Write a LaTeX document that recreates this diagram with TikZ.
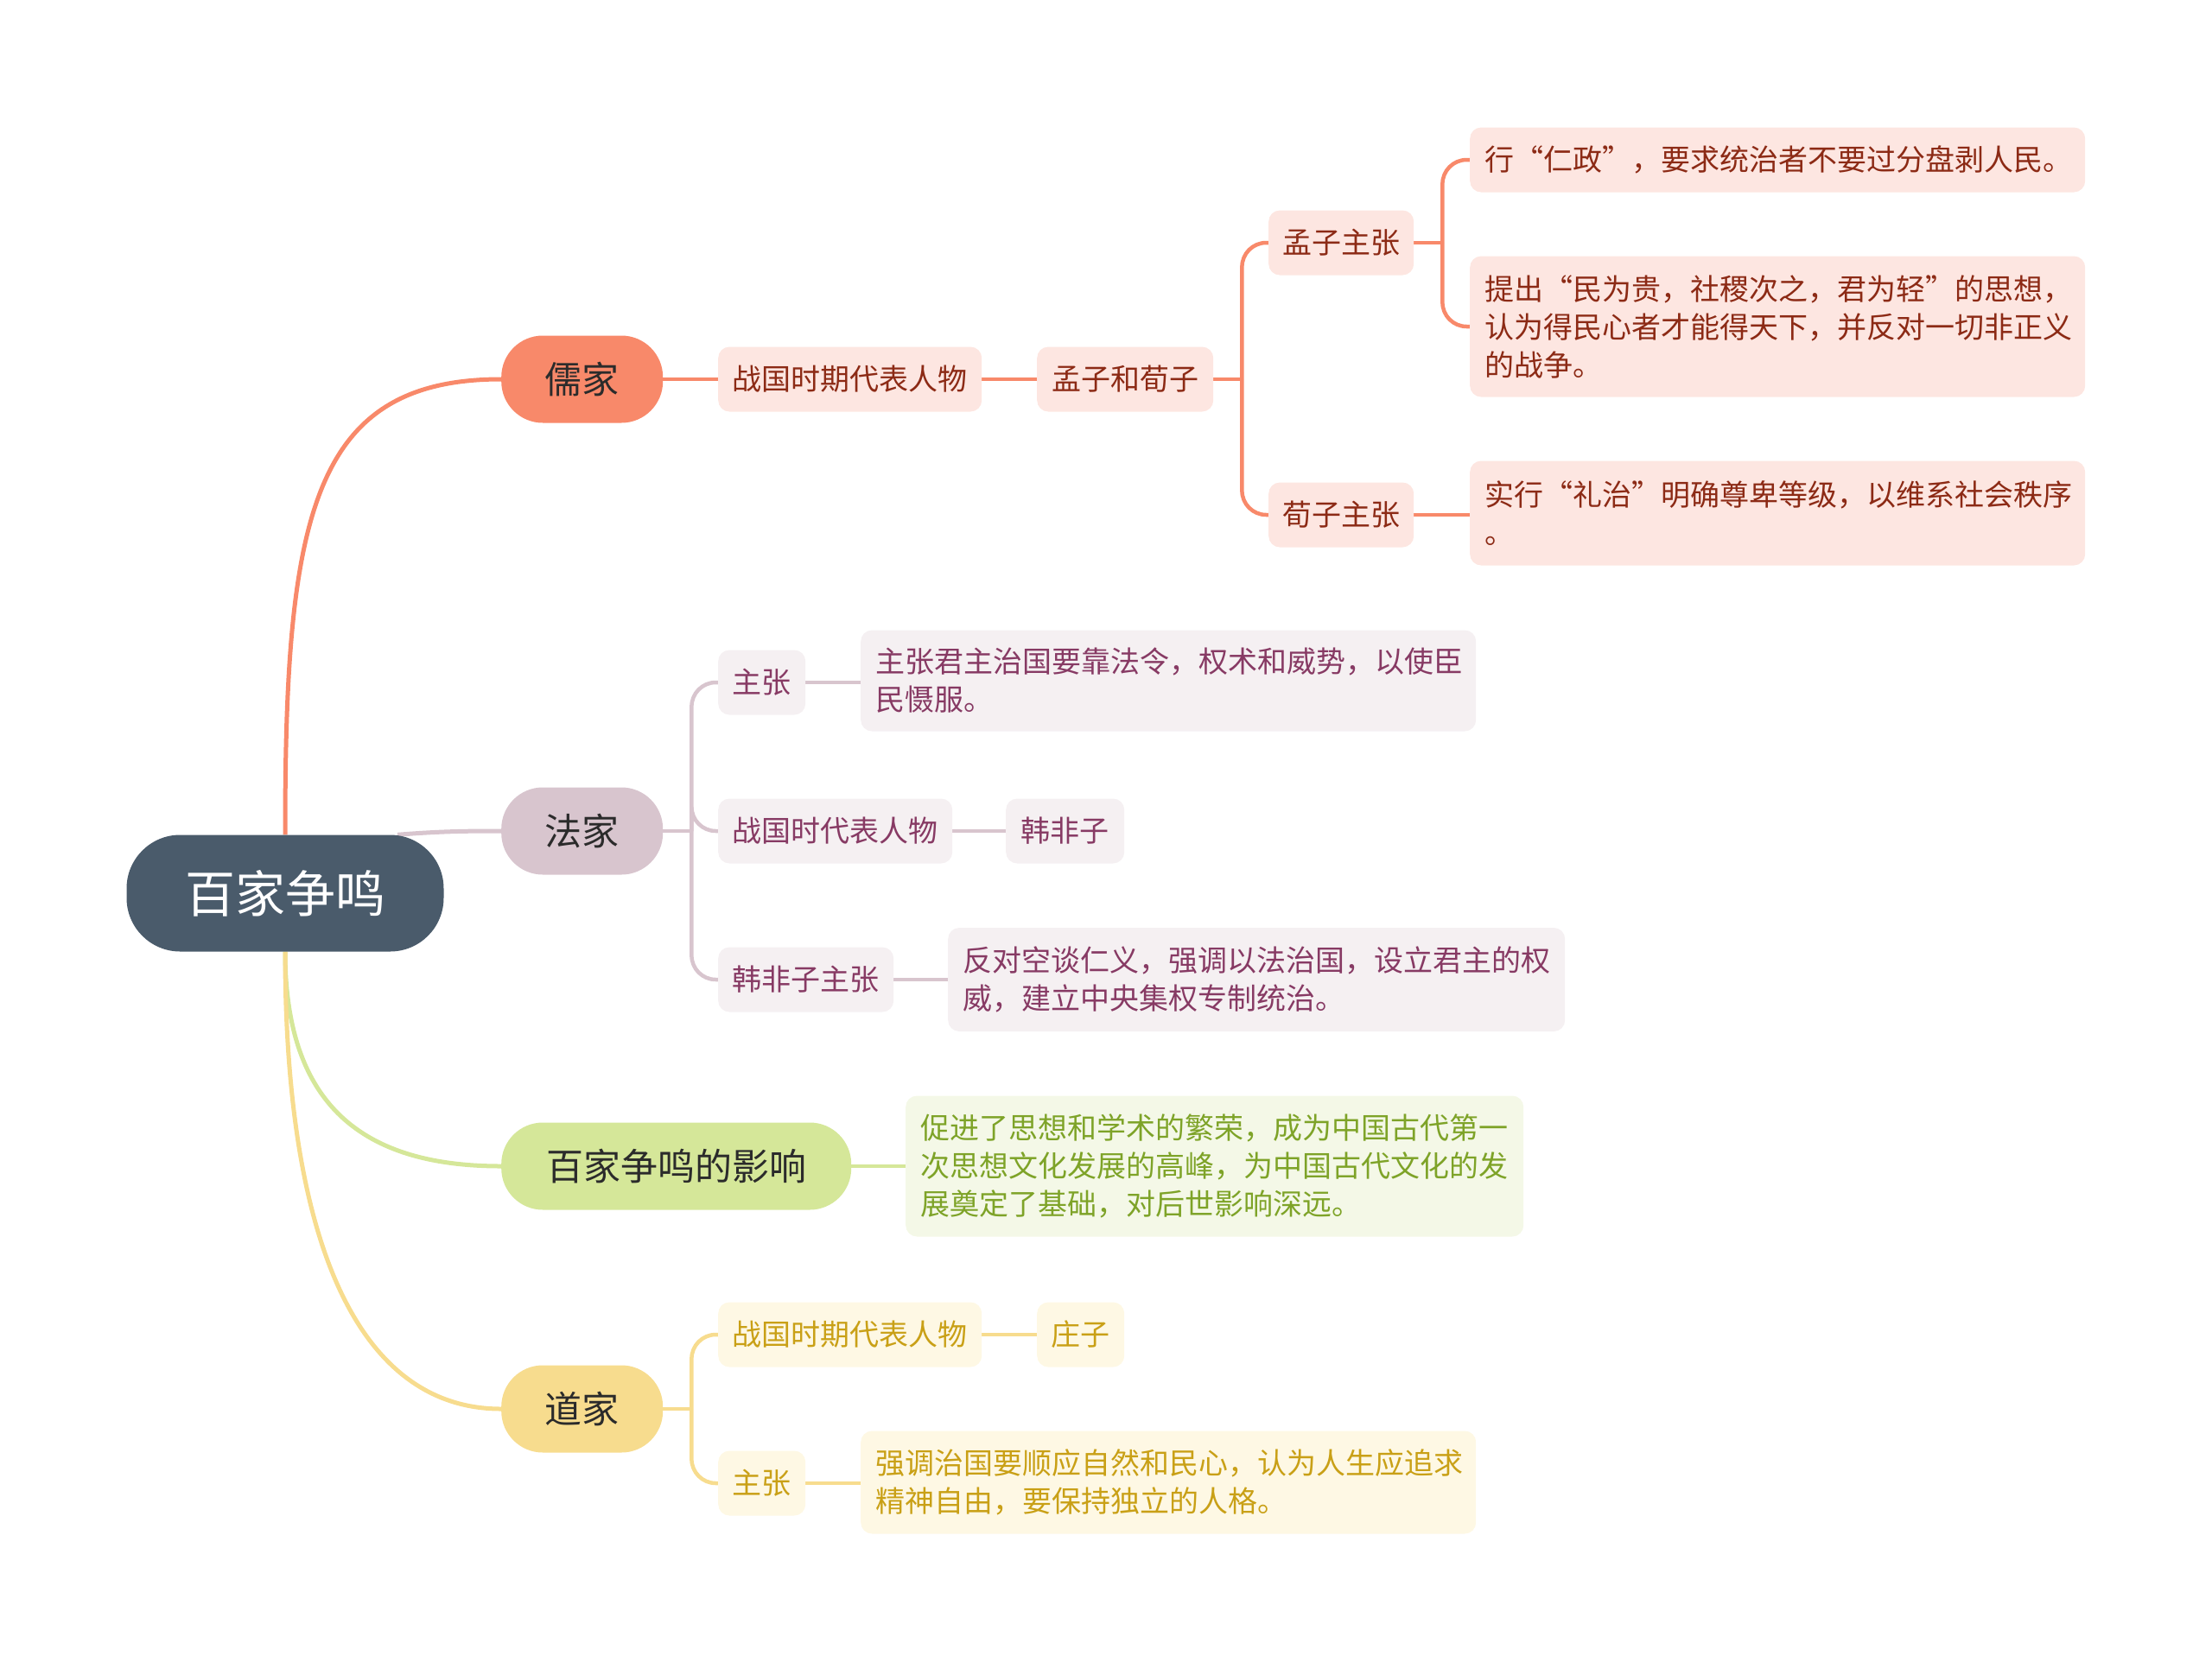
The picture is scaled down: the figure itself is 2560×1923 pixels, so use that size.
\documentclass[tikz,border=0pt]{standalone}
\usepackage{fontspec}
\setmainfont{Noto Sans CJK SC}
\usetikzlibrary{backgrounds}
\definecolor{rootc}{HTML}{4A5B6B}
\definecolor{ruc}{HTML}{F8896A}
\definecolor{rusub}{HTML}{FDE6E1}
\definecolor{rutext}{HTML}{8C2A15}
\definecolor{fac}{HTML}{D8C5CE}
\definecolor{fasub}{HTML}{F5F0F2}
\definecolor{fatext}{HTML}{873A64}
\definecolor{yxc}{HTML}{D5E799}
\definecolor{yxsub}{HTML}{F4F8E7}
\definecolor{yxtext}{HTML}{7EA328}
\definecolor{daoc}{HTML}{F7DC8E}
\definecolor{daosub}{HTML}{FEF8E4}
\definecolor{daotext}{HTML}{C9A016}
\definecolor{maintext}{HTML}{2B2B2B}
\begin{document}
\begin{tikzpicture}[x=1pt,y=-1pt,
  rootbox/.style={fill=rootc, rounded corners=62, minimum width=367, minimum height=135,
    text=white, inner sep=0, font=\fontsize{58}{70}\selectfont},
  mainbox/.style={fill=#1, rounded corners=48, minimum height=101, inner sep=0,
    anchor=west, text=maintext, font=\fontsize{43}{52}\selectfont},
  subbox/.style 2 args={fill=#1, text=#2, rounded corners=13, minimum height=75, inner xsep=0,
    inner ysep=0, anchor=west, font=\fontsize{34}{44}\selectfont},
  leafbox/.style 2 args={fill=#1, text=#2, rounded corners=13, inner xsep=17, inner ysep=0,
    align=left, anchor=west, font=\fontsize{34}{44}\selectfont},
  rline/.style={draw=#1, line width=5},
  lline/.style={draw=#1, line width=4.5},
  bline/.style={draw=#1, line width=4.5, rounded corners=28}
]
\useasboundingbox (0,0) rectangle (2560,1923);

% root
\node[rootbox] (root) at (330,1034) {百家争鸣};

% main branches
\node[mainbox=ruc, minimum width=187] (ru) at (580,439) {儒家};
\node[mainbox=fac, minimum width=187] (fa) at (580,962) {法家};
\node[mainbox=yxc, minimum width=405] (yx) at (580,1350) {百家争鸣的影响};
\node[mainbox=daoc, minimum width=187] (dao) at (580,1631) {道家};

% 儒家
\node[subbox={rusub}{rutext}, minimum width=305] (r1) at (831,439) {战国时期代表人物};
\node[subbox={rusub}{rutext}, minimum width=204] (r2) at (1200,439) {孟子和荀子};
\node[subbox={rusub}{rutext}, minimum width=168] (m1) at (1468,281) {孟子主张};
\node[subbox={rusub}{rutext}, minimum width=168] (x1) at (1468,596) {荀子主张};
\node[leafbox={rusub}{rutext}, text width=678, minimum height=75] (l1) at (1701,185)
  {行“仁政”，要求统治者不要过分盘剥人民。};
\node[leafbox={rusub}{rutext}, text width=678, minimum height=163] (l2) at (1701,378)
  {提出“民为贵，社稷次之，君为轻”的思想，\\认为得民心者才能得天下，并反对一切非正义\\的战争。};
\node[leafbox={rusub}{rutext}, text width=678, minimum height=121] (l3) at (1701,594)
  {实行“礼治”明确尊卑等级，以维系社会秩序\\。};

% 法家
\node[subbox={fasub}{fatext}, minimum width=101] (f1) at (831,790) {主张};
\node[subbox={fasub}{fatext}, minimum width=271] (f2) at (831,962) {战国时代表人物};
\node[subbox={fasub}{fatext}, minimum width=137] (f3) at (1164,962) {韩非子};
\node[subbox={fasub}{fatext}, minimum width=203] (f4) at (831,1134) {韩非子主张};
\node[leafbox={fasub}{fatext}, text width=678, minimum height=117] (l4) at (996,788)
  {主张君主治国要靠法令，权术和威势，以使臣\\民慑服。};
\node[leafbox={fasub}{fatext}, text width=680, minimum height=120] (l5) at (1097,1134)
  {反对空谈仁义，强调以法治国，设立君主的权\\威，建立中央集权专制统治。};

% 影响
\node[leafbox={yxsub}{yxtext}, text width=681, minimum height=163] (l6) at (1048,1350)
  {促进了思想和学术的繁荣，成为中国古代第一\\次思想文化发展的高峰，为中国古代文化的发\\展奠定了基础，对后世影响深远。};

% 道家
\node[subbox={daosub}{daotext}, minimum width=305] (d1) at (831,1545) {战国时期代表人物};
\node[subbox={daosub}{daotext}, minimum width=101] (d2) at (1200,1545) {庄子};
\node[subbox={daosub}{daotext}, minimum width=101] (d3) at (831,1717) {主张};
\node[leafbox={daosub}{daotext}, text width=678, minimum height=119] (l7) at (996,1716)
  {强调治国要顺应自然和民心，认为人生应追求\\精神自由，要保持独立的人格。};

\begin{scope}[on background layer]
% root connectors
\draw[rline=ruc] (root.north) .. controls +(0,-367) and +(-220,0) .. (ru.west);
\draw[rline=fac] ([xshift=130]root.north) .. controls +(50,-4) and +(-40,0) .. (fa.west);
\draw[rline=yxc] (root.south) .. controls +(0,178) and +(-160,0) .. (yx.west);
\draw[rline=daoc] (root.south) .. controls +(0,348) and +(-160,0) .. (dao.west);

% 儒家
\draw[lline=ruc] (ru.east) -- (r1.west);
\draw[lline=ruc] (r1.east) -- (r2.west);
\draw[lline=ruc] (r2.east) -- ++(33,0) coordinate (b1);
\draw[bline=ruc] (b1) |- (m1.west);
\draw[bline=ruc] (b1) |- (x1.west);
\draw[lline=ruc] (m1.east) -- ++(33,0) coordinate (b2);
\draw[bline=ruc] (b2) |- (l1.west);
\draw[bline=ruc] (b2) |- (l2.west);
\draw[lline=ruc] (x1.east) -- (x1.east -| l3.west);

% 法家
\draw[lline=fac] (fa.east) -- ++(33,0) coordinate (b3);
\draw[bline=fac] (b3) |- (f1.west);
\draw[bline=fac] (b3) |- (f2.west);
\draw[bline=fac] (b3) |- (f4.west);
\draw[lline=fac] (f1.east) -- (f1.east -| l4.west);
\draw[lline=fac] (f2.east) -- (f3.west);
\draw[lline=fac] (f4.east) -- (l5.west);

% 影响
\draw[lline=yxc] (yx.east) -- (l6.west);

% 道家
\draw[lline=daoc] (dao.east) -- ++(33,0) coordinate (b4);
\draw[bline=daoc] (b4) |- (d1.west);
\draw[bline=daoc] (b4) |- (d3.west);
\draw[lline=daoc] (d1.east) -- (d2.west);
\draw[lline=daoc] (d3.east) -- (d3.east -| l7.west);
\end{scope}
\end{tikzpicture}
\end{document}
